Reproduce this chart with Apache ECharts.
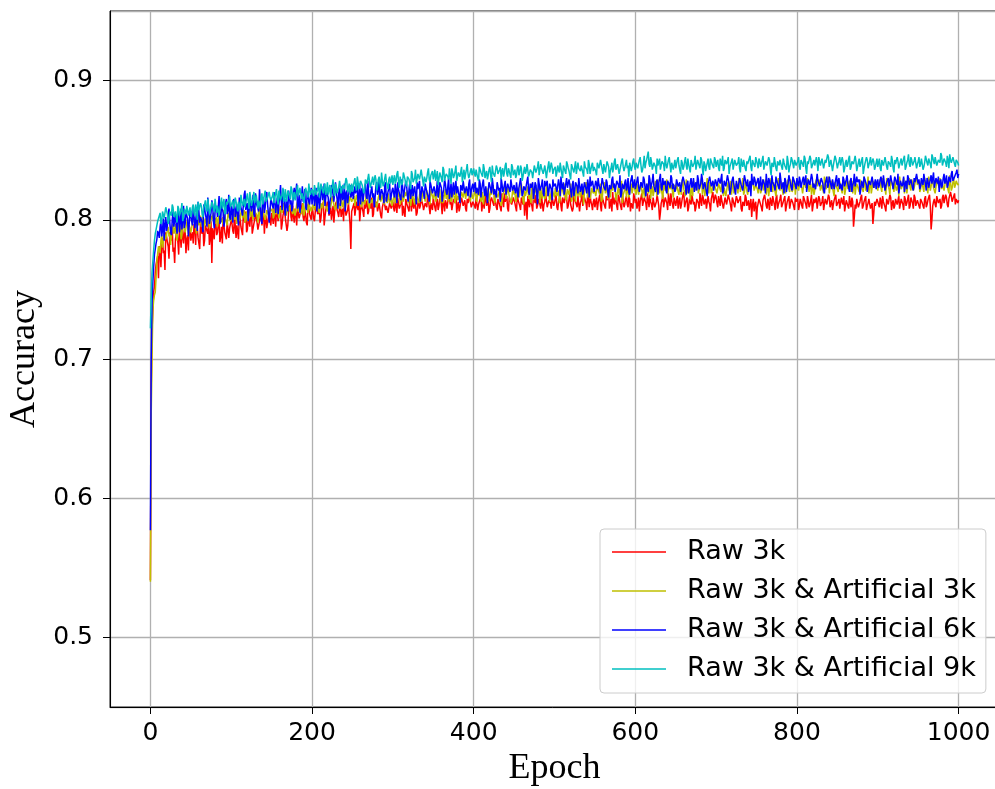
<!DOCTYPE html>
<html>
<head>
<meta charset="utf-8">
<title>Accuracy vs Epoch</title>
<script src="https://cdn.jsdelivr.net/npm/echarts@6/dist/echarts.min.js"></script>
<style>
  html, body { margin: 0; padding: 0; background: #ffffff; }
  #chart { width: 995px; height: 789px; }
</style>
</head>
<body>
<div id="chart"></div>
<script>
// Validation accuracy in thousandths. "*Even" arrays hold epochs 0, 2, ..., 1000;
// "*Odd" arrays hold epochs 1, 3, ..., 999.
const seriesNames = ['Raw 3k', 'Raw 3k & Artificial 3k', 'Raw 3k & Artificial 6k', 'Raw 3k & Artificial 9k'];

const raw3kEven = [
  541,720,748,762,771,758,779,783,776,764,788,781,791,785,777,769,790,784,795,780,787,793,776,789,796,
  785,791,797,782,794,788,799,790,781,796,792,800,787,769,793,801,789,797,784,795,802,791,786,798,794,
  800,792,804,787,797,803,795,789,801,806,793,799,804,790,797,805,798,792,803,796,807,800,794,802,799,
  805,797,802,808,799,806,793,803,809,800,796,807,802,810,798,804,808,801,806,812,799,804,796,808,803,
  809,801,806,811,803,798,808,813,802,807,811,804,800,810,806,813,805,809,802,808,814,803,807,811,779,
  806,812,804,809,815,807,811,802,808,814,806,810,816,804,809,813,807,811,801,808,815,810,805,812,808,
  813,806,810,816,808,812,803,809,815,811,806,813,817,808,811,805,814,810,816,807,812,809,815,804,811,
  816,809,813,807,815,811,818,806,812,809,816,813,808,814,819,810,806,813,817,811,808,815,812,818,810,
  814,808,817,811,815,806,813,819,810,814,808,816,812,818,809,815,811,806,814,819,812,808,816,813,810,
  815,809,818,812,807,814,817,811,800,813,816,810,819,812,808,815,811,817,806,813,818,810,814,808,816,
  812,818,807,814,810,816,812,819,808,815,811,806,817,813,809,816,812,820,810,814,807,815,819,811,813,
  809,816,812,818,806,814,810,817,813,808,815,820,811,814,807,816,812,818,809,815,811,817,806,813,819,
  812,808,816,813,819,810,815,807,814,818,811,816,809,813,817,800,812,818,810,815,807,814,819,811,816,
  810,817,813,808,815,820,812,816,809,814,818,811,806,815,812,819,810,816,813,808,817,811,815,820,812,
  816,809,814,818,811,807,815,812,819,810,816,813,808,815,811,817,806,813,818,810,814,808,802,815,811,
  800,812,816,809,814,818,810,815,807,813,817,811,815,808,812,818,810,814,806,813,817,809,815,811,816,
  812,807,815,810,817,813,808,814,811,818,806,812,816,809,815,811,817,808,813,810,816,812,807,814,818,
  811,815,808,813,817,810,814,808,812,816,795,811,815,809,813,818,810,814,807,812,816,809,797,813,810,
  815,809,813,817,811,806,814,810,816,812,808,815,811,817,809,813,807,815,812,818,810,814,808,816,811,
  813,808,816,811,815,809,814,818,793,810,815,809,817,813,808,816,812,818,811,815,820,813,817,811,816,
  814
];
const raw3kOdd = [
  680,735,752,768,774,781,766,787,778,791,784,772,789,795,780,786,792,775,788,797,783,791,786,778,793,
  789,783,795,800,787,779,792,798,785,794,790,782,799,794,786,797,791,800,788,783,796,792,799,787,795,
  797,790,803,796,786,801,794,805,798,791,802,795,807,789,800,804,793,799,806,797,790,803,798,805,796,
  802,808,795,805,800,810,797,804,801,792,806,811,799,803,808,796,805,800,809,802,807,798,811,804,800,
  806,799,812,804,808,801,810,796,807,813,803,809,805,798,811,807,802,812,806,799,809,804,812,797,806,
  810,803,813,807,799,811,806,814,809,804,812,808,802,815,810,806,812,803,809,814,807,811,804,813,809,
  808,814,805,811,807,815,810,802,812,808,816,806,810,814,803,812,808,815,811,806,813,817,809,812,807,
  812,806,815,810,817,804,811,814,808,818,811,807,815,812,805,813,809,816,810,814,806,812,817,809,813,
  810,816,807,813,818,811,808,815,812,805,814,817,810,813,807,816,812,819,809,813,817,806,814,811,816,
  812,806,814,810,816,811,803,813,817,809,812,806,815,818,810,813,808,816,811,819,809,814,812,817,810,
  815,809,813,817,806,814,811,816,810,819,812,808,815,811,817,806,814,810,816,812,818,809,813,807,815,
  813,807,815,810,817,812,808,814,819,811,806,813,816,810,818,812,807,814,811,817,809,815,812,808,816,
  815,811,806,814,810,816,812,819,809,813,807,815,811,818,810,805,814,809,816,812,819,810,814,808,813,
  814,808,816,811,818,809,813,806,815,811,817,813,809,816,808,814,818,811,815,809,813,806,816,812,818,
  812,817,810,814,808,816,811,818,813,806,814,809,817,812,815,808,813,810,816,812,807,815,811,806,813,
  809,815,811,806,813,817,808,812,816,810,814,807,818,811,815,809,813,817,810,814,808,815,812,807,813,
  815,810,813,808,816,811,817,809,814,806,815,812,808,817,810,813,807,815,811,818,809,814,811,816,810,
  813,808,816,811,806,814,810,817,809,813,802,808,814,811,816,808,813,817,810,815,808,812,804,810,815,
  811,816,808,813,809,815,811,818,807,814,810,816,812,808,815,811,817,810,813,808,816,812,818,810,814,
  810,815,812,808,817,811,816,810,800,813,811,817,812,815,810,818,813,816,809,814,817,812,819,815,812
];

const raw3kArt3kEven = [
  540,700,742,748,770,781,776,789,784,792,787,795,790,783,797,792,788,798,794,786,799,793,790,800,795,
  791,798,802,794,799,796,803,797,793,801,798,804,796,800,805,797,802,799,806,801,797,803,799,805,802,
  798,804,800,806,802,799,805,801,807,803,799,806,802,808,800,805,803,809,801,806,804,800,807,803,809,
  805,801,808,804,810,802,807,805,811,803,808,806,812,804,809,807,813,805,810,808,803,811,807,814,809,
  806,812,808,814,810,806,813,809,815,811,807,814,810,816,812,808,815,811,817,809,814,812,818,810,815,
  812,817,809,815,813,819,811,816,814,820,810,815,812,818,814,809,816,820,813,817,811,815,819,812,816,
  813,818,811,816,820,814,818,812,817,821,815,810,818,814,819,816,812,820,815,818,813,821,816,811,819,
  815,820,813,818,822,816,812,819,815,821,817,813,820,816,822,814,818,812,821,817,815,822,819,813,818,
  816,822,813,819,824,815,811,820,817,823,814,818,825,812,819,816,822,810,818,821,815,823,817,812,820,
  818,813,821,816,824,819,811,817,822,815,820,826,814,819,816,823,812,818,821,815,824,817,813,820,822,
  816,823,819,812,821,825,817,814,822,818,826,815,820,813,824,819,816,822,811,818,825,820,815,823,819,
  821,816,824,818,813,822,827,819,815,823,817,821,826,814,820,818,824,812,819,825,821,816,823,819,826,
  820,826,818,823,828,821,816,824,819,827,822,817,825,821,829,819,823,815,826,822,818,827,823,820,825,
  821,827,818,824,829,822,817,825,820,814,823,828,821,826,819,824,830,822,817,825,821,827,819,824,828,
  822,818,826,820,829,823,817,825,821,828,824,819,826,822,830,820,825,818,827,823,819,828,822,826,820,
  824,819,827,821,829,823,818,826,822,830,820,825,817,826,823,828,821,824,819,827,822,829,820,825,818,
  826,821,828,823,819,827,822,830,824,818,826,821,829,823,827,820,825,831,822,826,819,828,823,817,825,
  822,829,824,819,827,821,830,825,820,828,823,818,826,822,829,824,820,827,821,831,825,819,828,823,826,
  821,827,823,830,824,818,826,822,829,825,820,828,823,817,826,822,830,824,819,827,823,829,821,826,831,
  824,820,828,823,830,825,819,827,822,829,824,820,828,823,831,826,821,829,824,819,827,823,830,825,828,
  826
];
const raw3kArt3kOdd = [
  660,735,746,758,776,779,785,780,791,786,793,788,782,795,790,797,785,792,796,789,795,791,798,788,796,
  794,800,796,790,802,798,795,804,799,796,801,794,803,799,806,800,795,804,798,802,807,800,796,803,799,
  801,807,803,797,805,800,808,804,798,806,802,809,803,800,807,804,798,806,802,810,805,801,808,804,806,
  808,803,810,806,801,809,805,812,807,802,810,806,813,808,803,811,806,809,804,812,807,813,805,810,806,
  811,807,813,809,805,812,808,816,810,806,813,809,817,811,807,814,810,808,816,812,807,815,811,817,813,
  814,810,818,812,816,809,815,811,818,813,808,816,812,819,814,810,817,813,818,811,816,812,820,814,810,
  816,812,819,815,811,818,813,820,816,812,819,814,817,811,820,815,818,813,821,816,812,819,815,822,817,
  818,813,820,816,812,819,815,822,817,813,820,815,818,812,821,817,813,820,816,823,814,819,816,821,815,
  819,815,822,817,813,820,816,823,818,813,821,817,824,815,820,816,822,813,819,824,816,821,818,814,822,
  820,815,823,818,826,814,821,817,824,819,812,822,818,825,816,820,823,815,821,817,824,819,814,822,818,
  823,817,821,815,824,819,826,816,822,818,813,823,820,825,817,821,815,824,819,827,816,822,818,823,820,
  817,824,820,826,815,822,819,825,821,816,827,820,823,817,824,821,828,818,822,816,825,820,826,819,823,
  818,825,821,827,816,823,819,826,822,815,824,820,828,817,823,826,819,824,821,829,818,822,825,816,823,
  826,820,824,818,827,822,829,819,825,821,817,826,823,828,820,824,818,826,822,830,819,825,821,827,823,
  819,826,822,828,817,824,821,827,823,818,829,822,825,819,826,823,830,820,824,818,827,822,828,821,825,
  822,828,819,825,821,829,823,817,826,822,827,820,824,830,821,825,818,827,823,829,820,826,822,828,824,
  827,821,825,819,828,823,830,820,826,822,818,827,824,829,821,825,819,828,823,831,820,826,822,827,824,
  820,827,823,829,818,825,822,828,824,819,830,823,826,820,827,824,831,821,825,819,828,823,829,822,826,
  825,829,820,826,822,830,824,818,827,823,828,821,825,831,822,826,819,828,824,830,821,827,823,829,825,
  828,822,826,820,829,824,831,821,827,823,819,828,825,830,822,826,820,829,824,832,821,827,823,828,825
];

const raw3kArt6kEven = [
  577,740,766,779,786,790,795,788,801,797,792,804,798,789,806,800,795,803,791,808,799,794,805,801,797,
  803,796,809,800,792,806,802,798,811,804,795,808,801,814,799,806,810,803,797,812,805,800,815,807,802,
  810,798,813,806,801,816,809,803,818,807,812,800,815,810,804,819,811,806,813,797,816,809,820,812,807,
  814,808,819,811,804,817,813,822,809,815,806,820,814,810,823,816,808,818,812,824,815,809,820,813,817,
  811,821,815,806,819,813,824,817,810,822,816,812,825,818,813,820,808,823,817,814,826,819,812,821,816,
  822,814,819,825,817,811,823,818,826,815,820,812,824,819,816,827,821,814,822,818,825,813,820,826,817,
  823,816,821,827,819,814,824,820,828,817,822,815,825,821,818,827,823,813,824,819,826,820,816,828,822,
  818,825,821,816,827,823,819,829,820,824,815,826,822,818,828,824,817,825,821,829,819,823,826,816,824,
  820,827,823,818,826,822,829,817,824,821,828,819,825,822,816,827,823,830,820,825,818,826,822,829,821,
  825,819,827,823,830,817,824,821,828,820,826,822,815,827,824,830,821,825,819,828,823,817,826,822,829,
  823,827,820,825,831,822,818,826,823,829,821,825,817,827,824,830,820,826,822,828,819,825,831,823,827,
  821,826,830,823,818,827,824,829,820,825,822,831,826,819,828,823,816,826,822,829,824,820,827,832,825,
  822,828,824,819,827,831,823,826,820,829,825,833,822,827,818,826,823,830,824,821,828,825,832,822,827,
  823,829,825,820,828,832,824,826,819,827,823,830,825,821,829,824,833,822,827,820,826,831,824,828,822,
  827,823,830,825,819,828,824,832,826,821,829,825,818,827,823,831,826,822,829,824,820,828,833,825,829,
  824,830,826,821,829,825,833,823,828,820,827,824,831,826,822,829,825,819,828,824,832,826,821,829,825,
  830,824,828,822,831,826,820,829,825,833,823,827,821,828,824,830,826,819,828,823,831,825,829,822,827,
  824,830,826,821,829,825,832,823,828,820,827,824,831,826,818,828,823,830,825,821,829,824,832,826,822,
  829,825,831,823,827,820,828,824,832,826,821,829,825,819,828,824,831,826,822,830,825,828,821,827,833,
  826,822,830,825,829,821,828,824,832,827,823,830,826,820,829,825,833,828,823,831,827,835,829,832,836,
  833
];
const raw3kArt6kOdd = [
  700,755,775,783,792,787,799,793,785,802,796,808,791,800,795,804,790,806,798,793,810,797,803,788,806,
  799,810,794,805,813,798,803,791,809,801,816,797,805,811,794,807,802,817,799,808,795,812,804,818,800,
  806,815,802,811,796,817,808,803,821,810,799,814,806,818,802,812,808,822,800,814,805,817,811,798,815,
  810,820,805,816,812,825,807,818,803,814,821,811,806,819,815,826,810,805,817,813,822,807,818,811,823,
  817,810,823,815,808,820,814,826,811,818,804,816,822,813,827,815,819,810,824,816,806,821,813,825,818,
  815,824,818,810,826,820,813,822,817,828,812,821,816,809,824,818,829,815,820,812,827,817,823,814,821,
  819,826,812,822,818,829,816,821,825,813,827,820,817,824,811,822,828,818,823,815,826,821,813,825,819,
  824,817,828,820,825,813,822,826,818,830,821,816,827,823,819,825,812,823,828,819,824,817,829,821,826,
  825,819,823,829,816,826,820,824,812,827,822,830,818,823,827,821,813,826,822,828,817,824,820,829,823,
  821,827,816,824,829,819,825,822,831,818,823,827,820,825,811,826,822,829,817,824,828,820,826,814,824,
  826,820,829,817,824,827,819,830,822,825,816,828,821,826,819,831,823,818,827,822,829,816,824,828,820,
  828,822,825,819,830,824,821,827,816,826,829,823,820,828,825,832,819,824,827,821,830,818,826,823,829,
  825,831,820,827,823,829,817,826,832,822,828,824,820,829,826,833,821,825,828,819,827,823,830,826,820,
  829,824,827,821,831,826,818,828,823,830,825,820,827,832,822,826,829,823,828,817,825,830,826,821,829,
  824,830,826,833,821,827,823,829,818,826,831,824,828,822,830,825,821,832,826,829,823,817,827,831,824,
  828,822,831,825,829,819,826,830,824,832,827,821,828,825,834,822,827,830,820,826,829,823,831,827,822,
  826,831,823,829,825,832,820,828,824,830,826,822,833,827,824,829,821,826,831,825,828,822,830,826,832,
  828,822,827,831,824,829,826,820,830,825,833,823,827,829,822,826,831,827,820,828,825,831,823,829,827,
  823,829,826,832,821,827,830,824,828,822,831,827,833,823,829,826,820,828,832,825,829,823,830,826,829,
  829,824,827,833,826,830,823,829,826,834,824,828,831,827,823,830,826,832,825,829,833,828,831,834,830
];

const raw3kArt9kEven = [
  722,762,778,790,796,800,805,799,807,802,808,797,806,803,809,801,805,810,803,807,799,808,804,811,806,
  802,809,805,811,800,807,812,804,809,814,806,810,803,813,808,815,805,811,807,816,809,804,813,810,817,
  808,814,811,817,806,813,818,810,815,812,819,808,816,813,820,811,817,814,809,819,815,821,812,818,816,
  813,820,816,822,811,818,815,823,817,813,821,818,824,814,820,817,825,816,822,819,812,823,819,826,818,
  822,817,824,820,827,815,823,819,826,821,818,825,822,829,817,824,821,828,819,825,822,830,820,826,823,
  820,827,824,831,822,828,825,819,829,826,833,823,828,825,832,821,829,826,834,824,830,827,822,831,828,
  825,832,828,835,823,830,827,834,826,831,829,822,833,828,836,826,831,829,835,824,832,830,837,827,833,
  829,836,831,825,834,830,838,828,833,831,837,826,834,832,839,829,835,831,827,836,833,840,830,835,832,
  837,831,835,828,836,833,840,830,835,832,838,827,834,831,839,833,836,829,837,834,841,831,835,830,838,
  834,830,837,832,839,828,835,833,840,831,836,834,829,838,835,842,832,837,833,839,830,836,834,841,833,
  836,831,839,834,841,830,837,833,840,835,829,838,834,842,832,837,835,840,831,838,836,843,833,839,835,
  838,832,840,836,843,833,839,835,841,830,837,834,842,836,840,833,839,844,835,840,837,831,841,838,844,
  836,841,838,845,834,840,837,843,849,838,842,836,841,833,839,844,837,842,835,840,838,845,834,840,836,
  837,843,839,833,841,838,845,836,840,834,842,839,846,835,841,837,843,832,840,838,844,836,842,839,845,
  838,843,835,841,846,837,842,839,833,840,844,836,841,838,845,834,840,843,837,842,839,846,835,841,838,
  844,837,842,839,846,835,841,838,843,832,840,845,837,842,839,844,836,841,838,846,834,840,843,837,842,
  839,845,836,842,838,844,833,840,846,837,841,839,845,835,842,838,843,836,841,847,838,843,835,840,844,
  837,842,839,845,834,841,838,844,836,842,840,846,835,841,838,843,833,840,845,837,842,839,844,836,841,
  838,844,835,841,839,846,836,842,838,843,834,840,845,837,842,839,844,836,841,847,838,843,840,845,837,
  842,838,844,836,841,847,839,843,837,845,840,846,838,842,848,839,844,841,846,837,843,840,845,838,842,
  839
];
const raw3kArt9kOdd = [
  745,770,785,793,799,803,797,806,801,809,804,800,807,811,802,806,798,808,805,812,802,807,810,803,809,
  805,811,803,808,813,806,810,802,811,808,815,804,809,812,806,814,810,803,812,808,815,806,811,814,809,
  812,808,816,810,813,807,817,812,809,816,813,820,810,815,812,818,808,814,817,811,818,813,816,820,814,
  817,812,819,815,821,814,818,813,822,816,819,815,822,818,814,821,817,823,815,820,818,824,816,821,820,
  819,825,818,822,816,826,821,824,818,827,822,816,824,820,826,819,823,827,818,824,821,828,823,819,826,
  824,830,821,827,823,829,826,821,830,825,828,822,831,826,829,824,831,823,828,826,833,825,829,826,832,
  829,826,833,827,831,825,834,829,824,832,828,835,827,830,826,833,829,836,828,831,827,834,829,832,835,
  832,828,835,829,833,827,836,831,834,829,832,837,830,835,828,834,831,838,832,829,836,833,831,837,834,
  833,836,830,838,834,831,837,833,829,836,832,839,834,830,837,832,838,835,831,839,833,837,834,840,832,
  836,832,839,834,837,831,838,835,841,833,837,830,839,834,838,832,840,836,833,838,835,842,834,838,836,
  838,834,836,841,833,839,835,842,837,832,840,836,838,833,841,836,839,834,842,837,833,840,836,841,838,
  835,841,837,843,836,840,834,842,838,835,841,837,844,836,840,833,842,838,836,843,839,841,835,842,838,
  841,837,843,839,836,846,841,844,840,845,836,841,838,844,839,836,842,840,846,837,843,839,841,836,843,
  840,845,838,843,836,842,839,844,837,843,838,841,836,843,839,845,837,842,835,841,838,844,840,837,843,
  841,837,844,839,835,843,840,845,838,842,836,843,839,841,837,844,838,842,835,840,844,838,843,840,845,
  840,844,838,843,836,842,839,845,837,841,838,844,835,841,843,838,844,839,836,842,838,845,840,843,839,
  842,838,843,840,846,837,842,839,844,836,843,838,841,845,839,844,837,843,840,845,838,842,839,846,841,
  840,845,838,842,837,843,840,846,838,843,839,842,836,844,840,845,837,841,843,838,845,840,842,838,844,
  841,837,843,839,845,838,842,840,846,837,843,839,842,836,844,840,846,838,843,840,845,839,842,844,840,
  845,840,843,838,846,841,844,840,847,842,845,839,843,841,846,840,844,838,843,847,841,845,840,843,841
];

const xTickValues = [0, 200, 400, 600, 800, 1000];
const yTickValues = [0.5, 0.6, 0.7, 0.8, 0.9];

const seriesColors = ['#ff0000', '#bfbf00', '#0000ff', '#00bfbf'];
const seriesEven = [raw3kEven, raw3kArt3kEven, raw3kArt6kEven, raw3kArt9kEven];
const seriesOdd = [raw3kOdd, raw3kArt3kOdd, raw3kArt6kOdd, raw3kArt9kOdd];

// Interleave even- and odd-epoch readings into [epoch, accuracy] pairs.
function toPoints(even, odd) {
  const pts = [];
  for (let i = 0; i < even.length; i++) {
    pts.push([2 * i, even[i] / 1000]);
    if (i < odd.length) pts.push([2 * i + 1, odd[i] / 1000]);
  }
  return pts;
}

const chart = echarts.init(document.getElementById('chart'), null, { renderer: 'canvas' });

const tickFont = { fontFamily: 'DejaVu Sans', fontSize: 25, color: '#000000' };
const titleFont = { fontFamily: 'Liberation Serif', fontSize: 36, color: '#000000' };

chart.setOption({
  animation: false,
  backgroundColor: '#ffffff',
  grid: {
    left: 110, right: -4, top: 11, bottom: 82,
    outerBoundsMode: 'none',
    containLabel: false,
    show: true, borderColor: '#000000', borderWidth: 1, backgroundColor: 'transparent'
  },
  xAxis: {
    type: 'value',
    min: -50, max: 1050,
    splitNumber: 5,
    name: 'Epoch',
    nameLocation: 'middle',
    nameGap: 44,
    nameTextStyle: titleFont,
    axisLine: { show: true, onZero: false, lineStyle: { color: '#000000', width: 1 } },
    axisTick: { show: true, inside: false, length: 7, lineStyle: { color: '#000000', width: 1 } },
    axisLabel: Object.assign({ margin: 14, showMinLabel: false, showMaxLabel: false,
      formatter: v => (xTickValues.indexOf(v) >= 0 ? String(v) : '') }, tickFont),
    splitLine: { show: true, lineStyle: { color: '#b0b0b0', width: 1.3 } }
  },
  yAxis: {
    type: 'value',
    min: 0.45, max: 0.95,
    splitNumber: 5,
    name: 'Accuracy',
    nameLocation: 'middle',
    nameGap: 64,
    nameTextStyle: titleFont,
    axisLine: { show: true, onZero: false, lineStyle: { color: '#000000', width: 1 } },
    axisTick: { show: true, inside: false, length: 7, lineStyle: { color: '#000000', width: 1 } },
    axisLabel: Object.assign({ margin: 17, showMinLabel: false, showMaxLabel: false,
      formatter: v => {
        const hit = yTickValues.find(t => Math.abs(t - v) < 1e-9);
        return hit !== undefined ? hit.toFixed(1) : '';
      } }, tickFont),
    splitLine: { show: true, lineStyle: { color: '#b0b0b0', width: 1.3 } }
  },
  legend: {
    left: 600, top: 529,
    orient: 'vertical',
    icon: 'rect',
    itemWidth: 54, itemHeight: 1.5,
    itemGap: 9,
    padding: [8, 10, 9, 12],
    backgroundColor: 'rgba(255,255,255,0.8)',
    borderColor: '#cccccc', borderWidth: 1, borderRadius: 4,
    textStyle: { fontFamily: 'DejaVu Sans', fontSize: 27, color: '#000000', lineHeight: 30, padding: [0, 0, 0, 16] },
    data: seriesNames
  },
  series: seriesNames.map((name, k) => ({
    name: name,
    type: 'line',
    data: toPoints(seriesEven[k], seriesOdd[k]),
    showSymbol: false,
    symbol: 'none',
    color: seriesColors[k],
    lineStyle: { color: seriesColors[k], width: 1.5 },
    emphasis: { disabled: true }
  }))
});
</script>
</body>
</html>
